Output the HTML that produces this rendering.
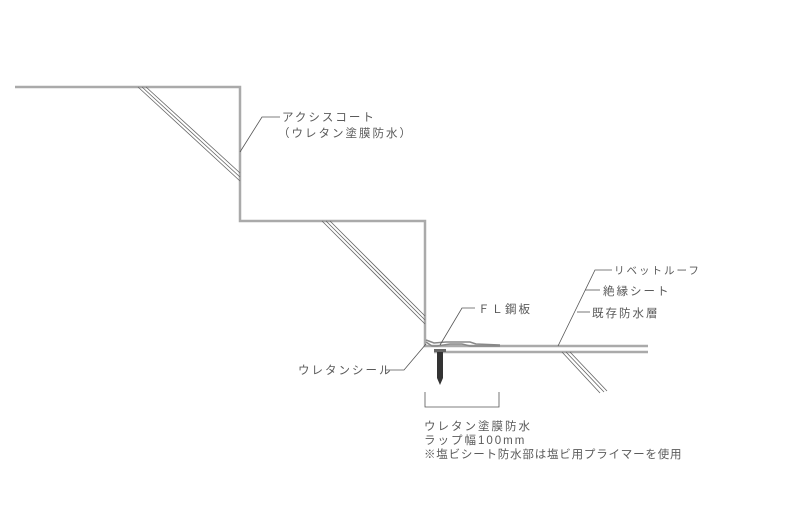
<!DOCTYPE html>
<html><head><meta charset="utf-8"><style>
html,body{margin:0;padding:0;background:#fff;}
svg{display:block;}
text{font-family:"Liberation Sans","Noto Sans CJK JP",sans-serif;font-size:11.5px;fill:#5a5a5a;letter-spacing:2px;}
</style></head><body>
<svg width="800" height="522" viewBox="0 0 800 522" xmlns="http://www.w3.org/2000/svg">
<g fill="none" stroke="#aaa" stroke-width="2.5">
<polyline points="15,87 240,87 240,221 425,221 425,346 648,346"/>
<line x1="434" y1="352" x2="648" y2="352"/>
</g>
<g fill="none" stroke="#666" stroke-width="0.8">
<line x1="138" y1="87" x2="240" y2="181"/>
<line x1="142" y1="87" x2="240" y2="177"/>
<line x1="146" y1="87" x2="240" y2="173"/>
<line x1="322" y1="221" x2="425" y2="324"/>
<line x1="326" y1="221" x2="425" y2="320"/>
<line x1="330" y1="221" x2="425" y2="316"/>
<line x1="562" y1="352" x2="600" y2="393"/>
<line x1="566" y1="352" x2="604" y2="392"/>
<line x1="570" y1="352" x2="607" y2="391"/>
</g>
<g fill="none" stroke="#888" stroke-width="1.5">
<polyline points="426,342 432,346 437,346 450,344 462,344 470,346 500,346"/>
<polyline points="426,340 434,343 446,342 470,342 476,344 500,345"/>
</g>
<rect x="437" y="352" width="6" height="26" fill="#333"/>
<polygon points="437,378 443,378 440,385" fill="#333"/>
<rect x="434" y="349" width="12" height="3" fill="#666"/>
<g fill="none" stroke="#555" stroke-width="0.8">
<polyline points="240,152 262,117 280,117"/>
<polyline points="440,345 462,308 475,308"/>
<polyline points="385,370 404,370 426,344"/>
<polyline points="558,346 595,270 612,270"/>
<line x1="585" y1="290" x2="600" y2="290"/>
<line x1="577" y1="312" x2="590" y2="312"/>
<polyline points="425,392 425,407 499,407 499,392"/>
</g>
<text x="282" y="121">アクシスコート</text>
<text x="278" y="137">（ウレタン塗膜防水）</text>
<text x="478" y="313" style="letter-spacing:2px">ＦＬ鋼板</text>
<text x="298" y="374">ウレタンシール</text>
<text x="614" y="274" style="font-size:10.5px">リベットルーフ</text>
<text x="603" y="295">絶縁シート</text>
<text x="592" y="317">既存防水層</text>
<text x="424" y="430">ウレタン塗膜防水</text>
<text x="424" y="444">ラップ幅100mm</text>
<text x="424" y="458" style="letter-spacing:0.8px">※塩ビシート防水部は塩ビ用プライマーを使用</text>
</svg>
</body></html>
